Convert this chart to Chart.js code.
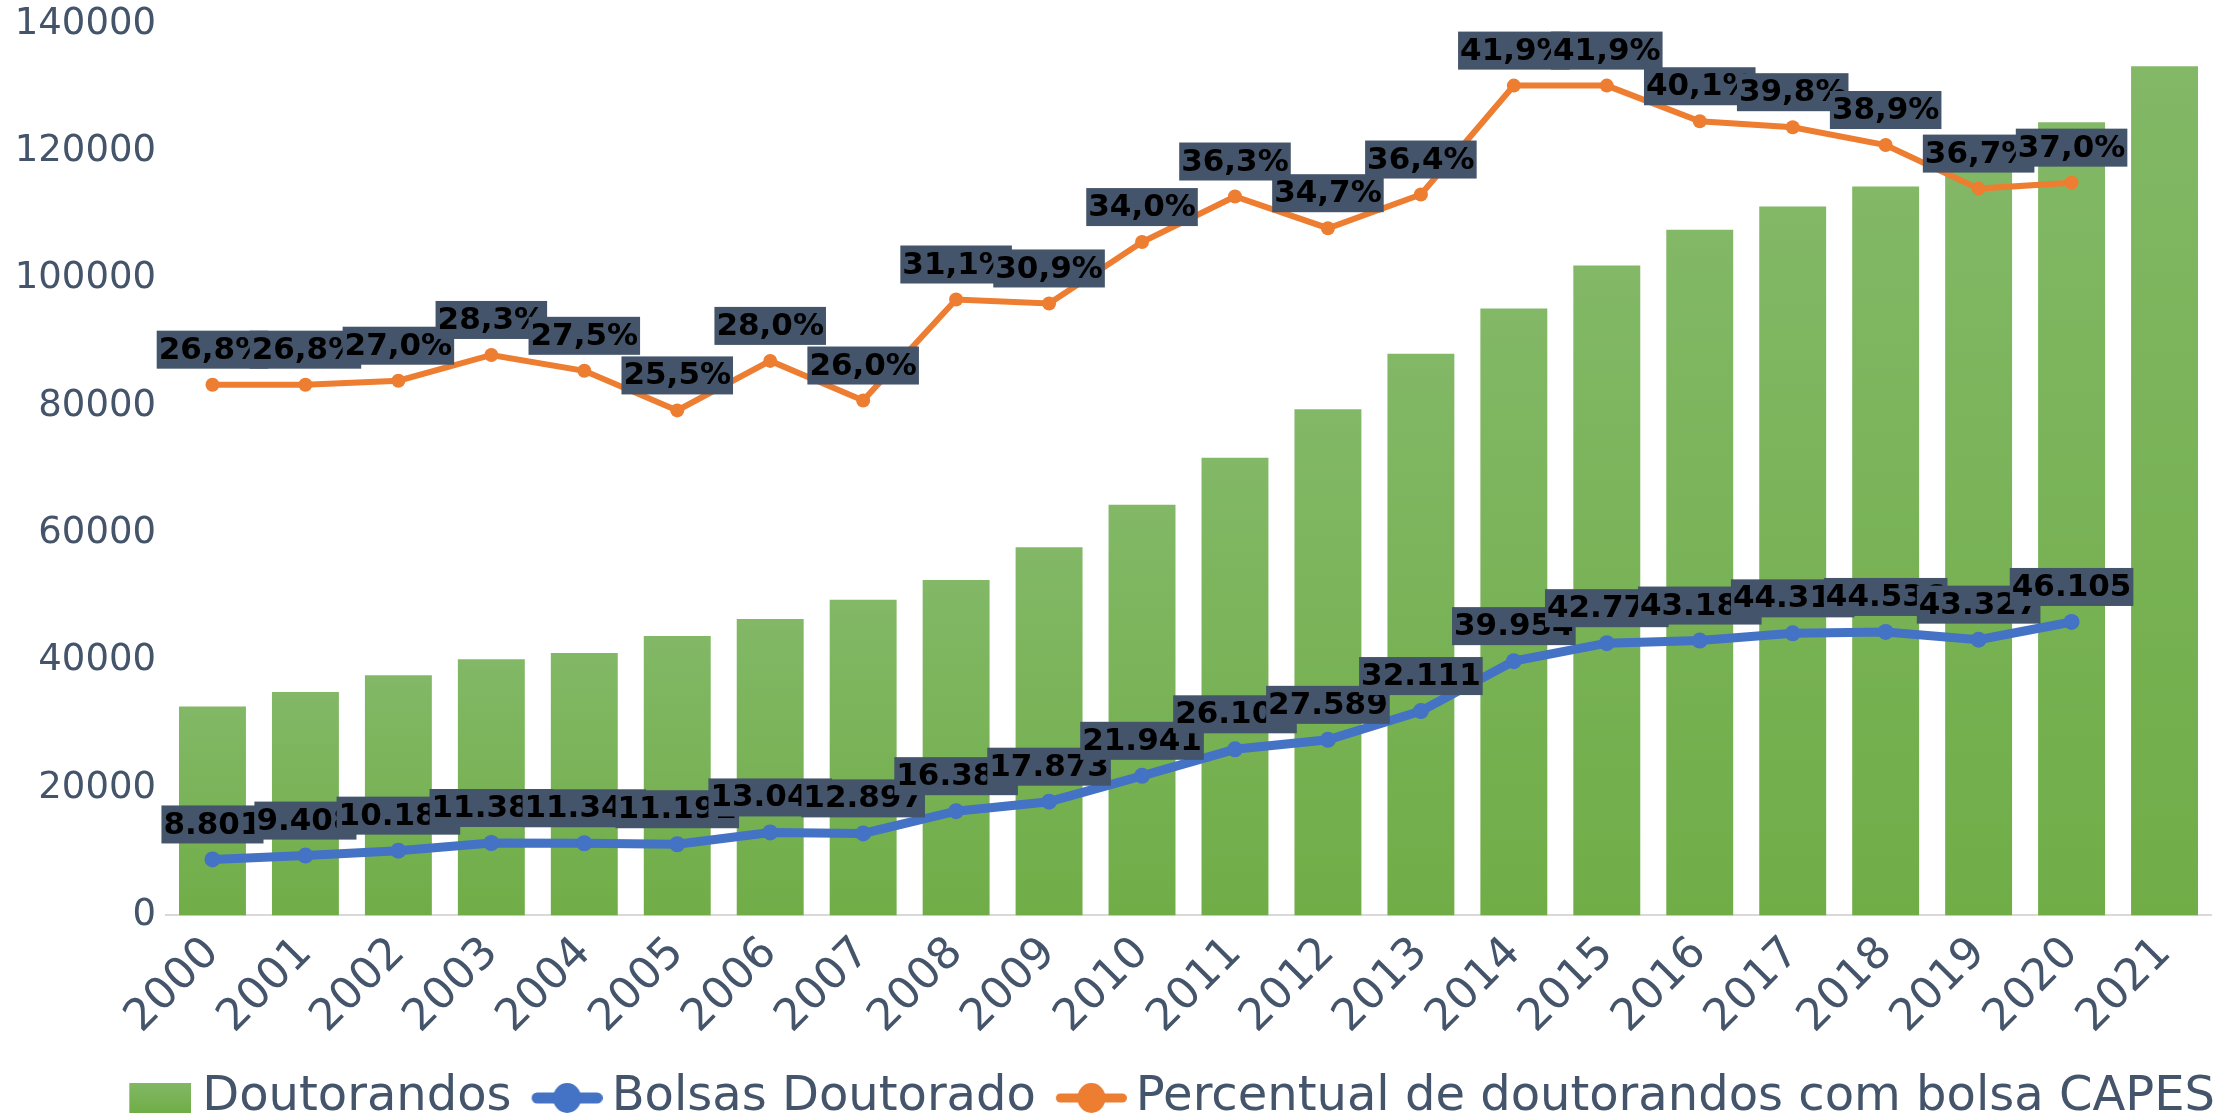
<!DOCTYPE html>
<html>
<head>
<meta charset="utf-8">
<script src="https://cdn.jsdelivr.net/npm/chart.js@4.4.0/dist/chart.umd.min.js"></script>
<style>
  html, body { margin: 0; padding: 0; background: #fff; }
  #wrap { width: 2231px; height: 1118px; }
</style>
</head>
<body>
<div id="wrap"><canvas id="chart"></canvas></div>
<script>
// values
const years = ['2000', '2001', '2002', '2003', '2004', '2005', '2006', '2007', '2008', '2009', '2010',
  '2011', '2012', '2013', '2014', '2015', '2016', '2017', '2018', '2019', '2020', '2021'];
const doutorandos = [32840, 35100, 37720, 40230, 41240, 43890, 46580, 49600, 52680, 57840, 64530,
  71910, 79510, 88220, 95360, 102090, 107700, 111350, 114490, 118060, 124610, 133400];
const bolsas = [8801, 9408, 10184, 11385, 11342, 11192, 13043, 12897, 16385, 17873, 21941,
  26103, 27589, 32111, 39954, 42774, 43186, 44316, 44536, 43327, 46105];
const percentual = [26.8, 26.8, 27.0, 28.3, 27.5, 25.5, 28.0, 26.0, 31.1, 30.9, 34.0,
  36.3, 34.7, 36.4, 41.9, 41.9, 40.1, 39.8, 38.9, 36.7, 37.0];
const yTicks = [0, 20000, 40000, 60000, 80000, 100000, 120000, 140000];

const textColor = '#44546A';
const green = '#70AD47';
const greenLight = '#82B866';
const blue = '#4472C4';
const orange = '#ED7D31';

// 8801 -> "8.801", 26.8 -> "26,8%"
function fmtInt(v) {
  return String(v).replace(/\B(?=(\d{3})+(?!\d))/g, '.');
}
function fmtPct(v) {
  return v.toFixed(1).replace('.', ',') + '%';
}

// legend symbols: transparent margin on the left so the visible part sits close to the text
function makeSymbol(kind, color, lineW) {
  const c = document.createElement('canvas');
  const ctx = c.getContext('2d');
  c.height = 32;
  if (kind === 'bar') {
    c.width = 100;
    const g = ctx.createLinearGradient(0, 1, 0, 31);
    g.addColorStop(0, greenLight);
    g.addColorStop(1, green);
    ctx.fillStyle = g;
    ctx.fillRect(38, 1, 62, 30);
  } else {
    c.width = 104;
    ctx.strokeStyle = color;
    ctx.lineWidth = lineW;
    ctx.lineCap = 'round';
    ctx.beginPath();
    ctx.moveTo(33 + lineW / 2, 16);
    ctx.lineTo(104 - lineW / 2, 16);
    ctx.stroke();
    ctx.fillStyle = color;
    ctx.beginPath();
    ctx.ellipse(68.5, 16, 14, 15, 0, 0, Math.PI * 2);
    ctx.fill();
  }
  return c;
}
const symbols = [makeSymbol('bar'), makeSymbol('line', blue, 11), makeSymbol('line', orange, 9)];

// data labels in dark boxes above line points
const boxLabels = {
  id: 'boxLabels',
  afterDatasetsDraw(chart) {
    const ctx = chart.ctx;
    ctx.save();
    ctx.font = 'bold 31px "DejaVu Sans"';
    ctx.textAlign = 'center';
    ctx.textBaseline = 'middle';
    [1, 2].forEach(di => {
      const meta = chart.getDatasetMeta(di);
      const ds = chart.data.datasets[di];
      meta.data.forEach((pt, i) => {
        const txt = di === 1 ? fmtInt(ds.data[i]) : fmtPct(ds.data[i]);
        const w = ctx.measureText(txt).width + 4;
        const h = 38;
        const bottom = pt.y - 16;
        ctx.fillStyle = '#44546A';
        ctx.fillRect(pt.x - w / 2, bottom - h, w, h);
        ctx.fillStyle = '#000';
        ctx.fillText(txt, pt.x, bottom - h / 2 + 1);
      });
    });
    ctx.restore();
  }
};

// vertical gradient for each bar, from its own top to the baseline
function barFill(c) {
  const chart = c.chart;
  if (!chart.chartArea || c.raw == null) return green;
  const y = chart.scales.y;
  const top = y.getPixelForValue(c.raw);
  const base = y.getPixelForValue(0);
  const g = chart.ctx.createLinearGradient(0, top, 0, base);
  g.addColorStop(0, greenLight);
  g.addColorStop(1, green);
  return g;
}

const ctx = document.getElementById('chart').getContext('2d');
new Chart(ctx, {
  type: 'bar',
  data: {
    labels: years,
    datasets: [
      {
        type: 'bar',
        label: 'Doutorandos',
        data: doutorandos,
        backgroundColor: barFill,
        barPercentage: 0.72,
        categoryPercentage: 1,
        yAxisID: 'y',
        order: 3
      },
      {
        type: 'line',
        label: 'Bolsas Doutorado',
        data: bolsas,
        borderColor: blue,
        backgroundColor: blue,
        borderWidth: 9,
        pointRadius: 8,
        pointBorderWidth: 0,
        tension: 0,
        yAxisID: 'y',
        order: 2
      },
      {
        type: 'line',
        label: 'Percentual de doutorandos com bolsa CAPES',
        data: percentual,
        borderColor: orange,
        backgroundColor: orange,
        borderWidth: 6,
        pointRadius: 7,
        pointBorderWidth: 0,
        tension: 0,
        yAxisID: 'y2',
        order: 1
      }
    ]
  },
  options: {
    responsive: true,
    maintainAspectRatio: false,
    animation: false,
    layout: {
      padding: { left: 3, right: 14, top: 12, bottom: -14 }
    },
    scales: {
      x: {
        grid: { display: false },
        border: { display: true, color: '#D9D9D9', width: 2 },
        ticks: {
          color: textColor,
          font: { family: 'DejaVu Sans', size: 44 },
          minRotation: 45,
          maxRotation: 45,
          padding: 4
        },
        // extra room between the year labels and the legend
        afterFit: axis => { axis.height += 24; }
      },
      y: {
        min: 0,
        max: 140000,
        grid: { display: false },
        border: { display: false },
        afterBuildTicks: axis => {
          axis.ticks = yTicks.map(v => ({ value: v }));
        },
        afterFit: axis => { axis.width = 163; },
        ticks: {
          color: textColor,
          font: { family: 'DejaVu Sans', size: 37 },
          padding: 2,
          callback: v => String(v)
        }
      },
      // percent axis: not shown, only a thin strip on the right
      y2: {
        position: 'right',
        min: 0,
        max: 45,
        grid: { display: false },
        border: { display: false },
        ticks: { display: false },
        afterFit: axis => { axis.width = 6; }
      }
    },
    plugins: {
      legend: {
        position: 'bottom',
        align: 'end',
        labels: {
          color: textColor,
          font: { family: 'DejaVu Sans', size: 48 },
          usePointStyle: true,
          pointStyleWidth: 74,
          boxHeight: 32,
          padding: 2,
          generateLabels: chart => {
            const items = Chart.defaults.plugins.legend.labels.generateLabels(chart);
            items.sort((a, b) => a.datasetIndex - b.datasetIndex);
            items.forEach(it => { it.pointStyle = symbols[it.datasetIndex]; });
            return items;
          }
        }
      },
      tooltip: { enabled: false }
    }
  },
  plugins: [boxLabels]
});
</script>
</body>
</html>
